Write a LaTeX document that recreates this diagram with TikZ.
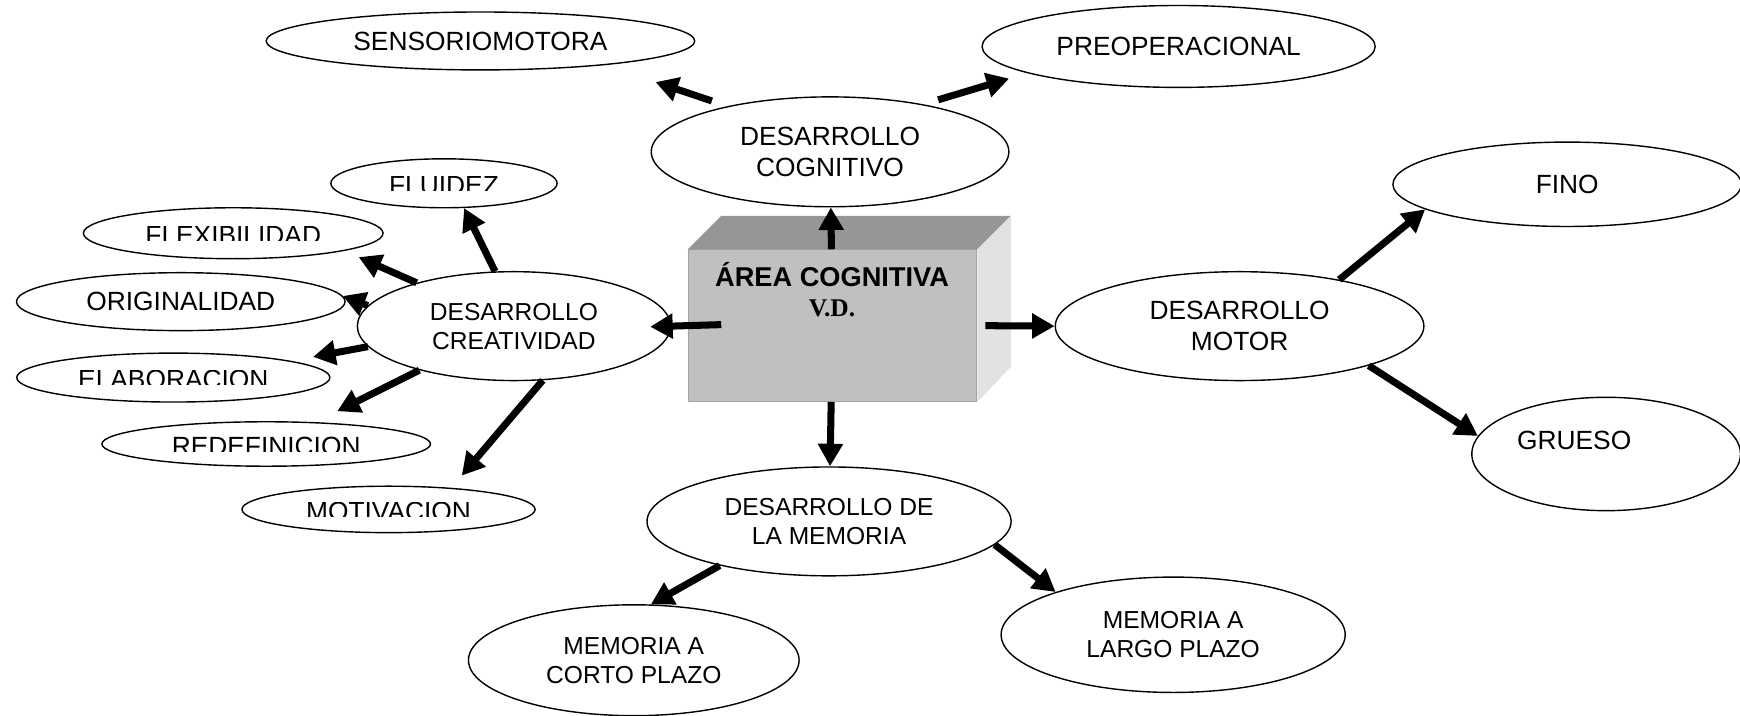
\documentclass[tikz,border=0pt]{standalone}
\usepackage{fontspec}
\setmainfont{Liberation Sans}
\newfontfamily\vdfont{Liberation Serif}
\usepackage{trimclip}
\usepackage{tikz}
\usetikzlibrary{shapes.geometric,arrows.meta}
\definecolor{caraFrente}{RGB}{192,192,192}
\definecolor{caraArriba}{RGB}{150,150,150}
\definecolor{caraLado}{RGB}{226,226,226}
\definecolor{bordeCaja}{RGB}{165,165,165}
\newcommand{\cortado}[1]{\clipbox{0pt {0.25\height} 0pt 0pt}{#1}}

\begin{document}
\begin{tikzpicture}[
        burbuja/.style={ellipse, draw, line width=0.8pt, inner sep=0pt, align=center, font=\fontsize{15}{17.5}\selectfont},
        burbujados/.style={burbuja, font=\fontsize{14}{16.5}\selectfont},
        flecha/.style={line width=4pt, -{Triangle[length=0.45cm,width=0.48cm]}},
        caja/.style={rectangle, fill=caraFrente, draw=bordeCaja, line width=0.5pt, minimum width=5.78cm, minimum height=3.04cm, inner sep=0pt}
    ]
        \useasboundingbox (0,0) rectangle (34.84,-14.32);

        % caja central
        \node [caja] (caja) at (16.67,-6.52) {};
        \fill [caraArriba] (caja.north west) -- ++(0.67,0.67) -- ([shift={(0.67,0.67)}]caja.north east) -- (caja.north east) -- cycle;
        \fill [caraLado] (caja.north east) -- ++(0.67,0.67) -- ([shift={(0.67,0.7)}]caja.south east) -- (caja.south east) -- cycle;
        \node [anchor=base, font=\bfseries\fontsize{15.5}{18}\selectfont] (titulo) at (16.66,-5.73) {ÁREA COGNITIVA};
        \node [anchor=base, font=\vdfont\bfseries\fontsize{14.5}{17}\selectfont] (vd) at (16.66,-6.34) {V.D.};

        % desarrollo cognitivo
        \node [burbuja, minimum width=7.16cm, minimum height=2.2cm] (cog) at (16.62,-3.04) {DESARROLLO\\COGNITIVO};
        \node [burbuja, minimum width=8.58cm, minimum height=1.16cm] (senso) at (9.62,-0.82) {SENSORIOMOTORA};
        \node [burbuja, minimum width=7.87cm, minimum height=1.64cm] (preop) at (23.6,-0.93) {PREOPERACIONAL};

        % desarrollo creatividad
        \node [burbujados, minimum width=6.27cm, minimum height=2.18cm] (crea) at (10.29,-6.53) {DESARROLLO\\CREATIVIDAD};
        \node [burbuja, minimum width=4.53cm, minimum height=0.98cm] (flu) at (8.89,-3.67) {\cortado{FLUIDEZ}};
        \node [burbuja, minimum width=6.0cm, minimum height=1.02cm] (flex) at (4.67,-4.67) {\cortado{FLEXIBILIDAD}};
        \node [burbuja, minimum width=6.58cm, minimum height=1.16cm] (orig) at (3.62,-6.04) {ORIGINALIDAD};
        \node [burbuja, minimum width=6.27cm, minimum height=0.98cm] (elab) at (3.47,-7.56) {\cortado{ELABORACION}};
        \node [burbuja, minimum width=6.58cm, minimum height=0.89cm] (redef) at (5.33,-8.89) {\cortado{REDEFINICION}};
        \node [burbuja, minimum width=5.87cm, minimum height=0.93cm] (motiv) at (7.78,-10.2) {\cortado{MOTIVACION}};

        % desarrollo motor
        \node [burbuja, minimum width=7.38cm, minimum height=2.18cm] (motor) at (24.82,-6.53) {DESARROLLO\\MOTOR};
        \node [burbuja, minimum width=6.98cm, minimum height=1.69cm] (fino) at (31.38,-3.69) {FINO};
        \node [burbuja, minimum width=5.38cm, minimum height=2.27cm, label={[xshift=-0.64cm,yshift=0.27cm, font=\fontsize{15}{18}\selectfont]center:GRUESO}] (grueso) at (32.16,-9.09) {};

        % desarrollo de la memoria
        \node [burbujados, minimum width=7.29cm, minimum height=2.18cm] (mem) at (16.6,-10.44) {DESARROLLO DE\\LA MEMORIA};
        \node [burbujados, minimum width=6.89cm, minimum height=2.31cm] (largo) at (23.49,-12.71) {MEMORIA A\\LARGO PLAZO};
        \node [burbujados, minimum width=6.62cm, minimum height=2.22cm] (corto) at (12.69,-13.22) {MEMORIA A\\CORTO PLAZO};

        % flechas
        \draw [flecha] (caja) -- (cog);
        \draw [flecha, shorten <=-0.67cm, shorten >=-0.42cm] (caja.west) -- (crea.east);
        \draw [flecha, shorten <=0.16cm] (caja.east) -- (motor.west);
        \draw [flecha] (caja) -- (mem);
        \draw [flecha, shorten <=0.33cm, shorten >=1.07cm] (cog.156) -- (senso.-11);
        \draw [flecha, shorten <=0.31cm, shorten >=0.38cm] (cog.27) -- (preop.190);
        \draw [flecha] (crea.109) -- (flu.-51);
        \draw [flecha, shorten >=0.31cm] (crea.156) -- (flex.-9);
        \draw [flecha] (crea.172) -- (orig.2);
        \draw [flecha, shorten >=0.44cm] (crea.188) -- (elab.8);
        \draw [flecha, shorten >=0.49cm] (crea.205) -- (redef.24);
        \draw [flecha, shorten >=0.32cm] (crea.-62) -- (motiv.19);
        \draw [flecha] (motor.25) -- (fino.190);
        \draw [flecha] (motor.-17) -- (grueso.172);
        \draw [flecha] (mem.202) -- (corto.73);
        \draw [flecha] (mem.-8) -- (largo.160);
    \end{tikzpicture}
\end{document}
